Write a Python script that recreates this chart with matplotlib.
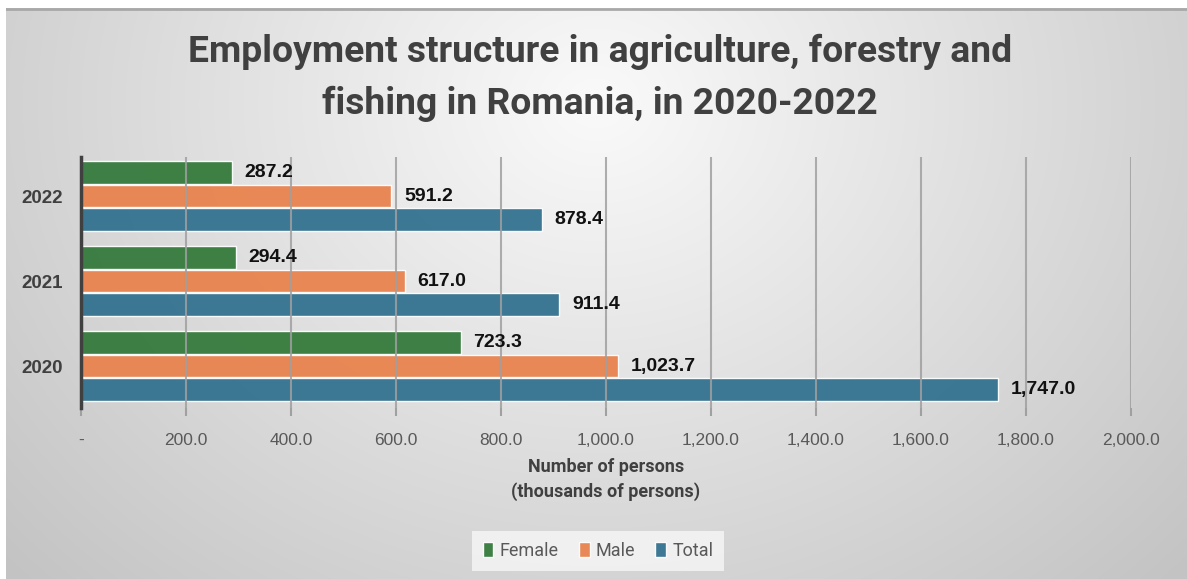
import numpy as np
import matplotlib
matplotlib.use("Agg")
import matplotlib.pyplot as plt
from matplotlib.ticker import FuncFormatter, FixedLocator
from matplotlib import font_manager

# Data (thousands of persons)
years = ["2020", "2021", "2022"]
female = [723.3, 294.4, 287.2]
male = [1023.7, 617.0, 591.2]
total = [1747.0, 911.4, 878.4]
series_names = ["Female", "Male", "Total"]
series_colors = ["#357A3C", "#E8834E", "#33728F"]
x_ticks = [0, 200, 400, 600, 800, 1000, 1200, 1400, 1600, 1800, 2000]

installed = {f.name for f in font_manager.fontManager.ttflist}
narrow = "Roboto" if "Roboto" in installed else "Liberation Sans"
plt.rcParams["font.family"] = ["Liberation Sans", "DejaVu Sans"]

W, H, DPI = 1187, 579, 100
fig = plt.figure(figsize=(W / DPI, H / DPI), dpi=DPI)
fig.patch.set_facecolor("white")

# Soft grey radial backdrop panel
bg = fig.add_axes([6 / W, 0, 1 - 6 / W, 1 - 8 / H], zorder=-10)
yy, xx = np.mgrid[0:571, 0:1181]
r = np.sqrt(((xx - 590) / 1.0) ** 2 + ((yy - 95) / 0.85) ** 2)
shade = np.clip(250 - r * 0.068, 195, 250) / 255.0
bg.imshow(np.dstack([shade, shade, shade]), aspect="auto", interpolation="bilinear")
bg.axhline(0, color="#A8A8A8", lw=2)
bg.set_axis_off()

# Plot area
ax = fig.add_axes([81 / W, 1 - 408 / H, (1131 - 81) / W, (408 - 157) / H])
ax.set_facecolor("none")

pos = np.arange(len(years))
offsets = [0.275, 0.0, -0.275]
bar_h = 0.265
for vals, name, col, off in zip([female, male, total], series_names, series_colors, offsets):
    bars = ax.barh(pos + off, vals, height=bar_h, color=col, alpha=0.95,
                   edgecolor=(1, 1, 1, 0.55), linewidth=1.0, label=name, zorder=2)
    for b, v in zip(bars, vals):
        ax.annotate(f"{v:,.1f}", xy=(v, b.get_y() + b.get_height() / 2),
                    xytext=(9, 0), textcoords="offset points", va="center", ha="left",
                    fontsize=14, fontweight="bold", color="#111111", zorder=4)

ax.set_xlim(0, 2000)
ax.set_ylim(-0.494, 2.459)
ax.xaxis.set_major_locator(FixedLocator(x_ticks))
ax.xaxis.set_major_formatter(FuncFormatter(lambda v, p: "-" if v == 0 else f"{v:,.1f}"))
ax.set_yticks(pos)
ax.set_yticklabels(years, fontsize=13.5, fontweight="bold", color="#404040")

for x in x_ticks[1:]:
    ax.axvline(x, color="#A0A0A0", lw=1.5, zorder=3, alpha=0.85)

for s in ["top", "right", "bottom"]:
    ax.spines[s].set_visible(False)
ax.spines["left"].set_color("#404040")
ax.spines["left"].set_linewidth(2.5)
ax.spines["left"].set_zorder(5)
ax.tick_params(axis="y", length=0, pad=13)
ax.tick_params(axis="x", length=6, width=1.5, color="#A0A0A0", labelsize=12.5,
               labelcolor="#595959", pad=12)

ax.text(0.5, -0.235, "Number of persons", transform=ax.transAxes, ha="center", va="center",
        fontsize=13, fontweight="bold", color="#404040", family=narrow)
ax.text(0.5, -0.335, "(thousands of persons)", transform=ax.transAxes, ha="center", va="center",
        fontsize=13, fontweight="bold", color="#404040", family=narrow)

fig.text(600 / W, 1 - 52 / H, "Employment structure in agriculture, forestry and",
         ha="center", va="center", fontsize=26.8, fontweight="bold", color="#404040", family=narrow)
fig.text(600 / W, 1 - 104 / H, "fishing in Romania, in 2020-2022",
         ha="center", va="center", fontsize=26.8, fontweight="bold", color="#404040", family=narrow)

leg = fig.legend(loc="center", bbox_to_anchor=(598 / W, 1 - 551 / H), ncol=3,
                 frameon=True, fancybox=False, handlelength=0.6, handleheight=0.9,
                 handletextpad=0.35, columnspacing=1.1, borderpad=0.6,
                 prop={"family": narrow, "size": 13})
leg.get_frame().set_facecolor((0.97, 0.97, 0.97, 0.75))
leg.get_frame().set_edgecolor("none")
for t in leg.get_texts():
    t.set_color("#595959")

fig.savefig("out.png", dpi=DPI)
